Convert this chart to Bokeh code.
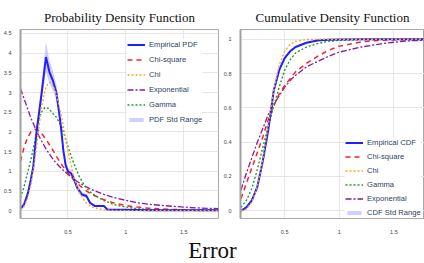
import numpy as np
from bokeh.plotting import figure
from bokeh.models import Legend, LegendItem, FixedTicker, CustomJSTickFormatter, Range1d
from bokeh.layouts import column, row
from bokeh.core.properties import value
from bokeh.embed import file_html
from bokeh.resources import INLINE

# ---------------- PDF data ----------------
emp_x = [0.09, 0.12, 0.155, 0.18, 0.20, 0.23, 0.27, 0.31, 0.34, 0.37, 0.40, 0.43, 0.44, 0.46,
         0.48, 0.50, 0.526, 0.55, 0.58, 0.62, 0.66, 0.69, 0.73, 0.81, 0.84, 0.90, 1.0, 1.2, 1.5, 1.8]
emp_pdf = [0.05, 0.15, 0.45, 0.80, 1.10, 2.03, 2.93, 3.90, 3.52, 3.30, 3.00, 2.35, 2.10, 1.53,
           1.15, 1.00, 0.95, 0.82, 0.58, 0.41, 0.37, 0.20, 0.12, 0.12, 0.03, 0.02, 0.02, 0.01, 0.01, 0.01]
emp_pdf_sd = [0.05, 0.06, 0.08, 0.10, 0.12, 0.15, 0.20, 0.38, 0.30, 0.25, 0.20, 0.15, 0.12, 0.10,
              0.10, 0.08, 0.08, 0.08, 0.08, 0.06, 0.05, 0.04, 0.03, 0.03, 0.02, 0.02, 0.01, 0.01, 0.01, 0.01]

fit_x = [0.09, 0.12, 0.15, 0.18, 0.21, 0.24, 0.27, 0.30, 0.33, 0.36, 0.40, 0.45, 0.50, 0.55,
         0.60, 0.65, 0.70, 0.80, 0.90, 1.0, 1.1, 1.2, 1.4, 1.6, 1.8]
chisq_pdf = [1.25, 1.60, 1.85, 2.00, 2.07, 2.05, 1.97, 1.85, 1.72, 1.58, 1.38, 1.15, 0.95, 0.78,
             0.64, 0.52, 0.42, 0.29, 0.19, 0.13, 0.09, 0.06, 0.03, 0.015, 0.008]
chi_pdf = [0.03, 0.10, 0.30, 0.65, 1.20, 1.90, 2.60, 3.05, 3.25, 3.25, 2.97, 2.30, 1.50, 0.85,
           0.45, 0.22, 0.10, 0.02, 0.005, 0.0, 0.0, 0.0, 0.0, 0.0, 0.0]
expon_pdf = [3.10, 2.85, 2.60, 2.35, 2.15, 1.95, 1.78, 1.62, 1.48, 1.35, 1.20, 1.05, 0.92, 0.80,
             0.70, 0.62, 0.54, 0.42, 0.33, 0.26, 0.20, 0.16, 0.11, 0.07, 0.05]
gamma_pdf = [0.33, 0.60, 0.95, 1.30, 1.70, 2.20, 2.50, 2.62, 2.60, 2.50, 2.37, 2.10, 1.62, 1.20,
             0.85, 0.60, 0.45, 0.27, 0.15, 0.09, 0.05, 0.03, 0.01, 0.005, 0.002]

# ---------------- CDF data ----------------
cdf_x = [0.10, 0.15, 0.20, 0.25, 0.30, 0.35, 0.40, 0.45, 0.50, 0.55, 0.60, 0.70, 0.80, 0.90,
         1.0, 1.2, 1.4, 1.6, 1.8]
emp_cdf = [0.0, 0.02, 0.06, 0.14, 0.29, 0.47, 0.70, 0.82, 0.89, 0.93, 0.955, 0.98, 0.993, 0.997,
           0.999, 1.0, 1.0, 1.0, 1.0]
emp_cdf_sd = [0.005, 0.008, 0.01, 0.015, 0.02, 0.02, 0.02, 0.015, 0.01, 0.008, 0.006, 0.004, 0.003,
              0.002, 0.001, 0.001, 0.001, 0.001, 0.001]
chisq_cdf = [0.07, 0.16, 0.25, 0.34, 0.43, 0.53, 0.61, 0.68, 0.73, 0.77, 0.81, 0.86, 0.90, 0.935,
             0.96, 0.985, 0.995, 0.998, 1.0]
chi_cdf = [0.0, 0.01, 0.05, 0.14, 0.30, 0.50, 0.70, 0.85, 0.93, 0.97, 0.988, 0.998, 1.0, 1.0,
           1.0, 1.0, 1.0, 1.0, 1.0]
gamma_cdf = [0.02, 0.06, 0.13, 0.24, 0.37, 0.49, 0.61, 0.72, 0.82, 0.88, 0.92, 0.955, 0.975, 0.988,
             0.994, 0.998, 1.0, 1.0, 1.0]
expon_cdf = [0.12, 0.22, 0.31, 0.40, 0.48, 0.56, 0.62, 0.67, 0.72, 0.76, 0.79, 0.84, 0.87, 0.90,
             0.925, 0.955, 0.975, 0.99, 0.995]

pdf_yticks = [0, 0.5, 1, 1.5, 2, 2.5, 3, 3.5, 4, 4.5]
cdf_yticks = [0, 0.2, 0.4, 0.6, 0.8, 1]
xticks = [0.5, 1, 1.5]

BLUE = "#1f1fff"
RED = "#ff2020"
ORANGE = "#ffa520"
PURPLE = "#8b1a9b"
GREEN = "#1f9a2f"
BAND = "#c4c4ff"
TXT = "#2a3f5f"

fmt = CustomJSTickFormatter(code="return String(Math.round(tick*100)/100);")


def make_fig(title, w, h, xr, yr, yticks, left, right):
    p = figure(width=w, height=h, x_range=Range1d(*xr), y_range=Range1d(*yr),
               output_backend="svg", toolbar_location=None, title=title,
               min_border_left=left, min_border_right=right, min_border_top=29, min_border_bottom=13)
    p.title.align = "center"
    p.title.text_font = "Liberation Serif"
    p.title.text_font_size = "13px"
    p.title.text_font_style = "normal"
    p.title.text_color = "#111111"
    p.title.standoff = 9
    p.background_fill_color = "white"
    p.border_fill_color = "white"
    p.outline_line_color = "#a8a8a8"
    p.outline_line_width = 1
    for ax in (p.xaxis, p.yaxis):
        ax.major_tick_line_color = None
        ax.minor_tick_line_color = None
        ax.major_label_text_font_size = "5.5px"
        ax.major_label_text_color = "#444444"
        ax.major_label_text_font = "Liberation Sans"
        ax.formatter = fmt
    p.yaxis.axis_line_color = "#a0a0a0"
    p.yaxis.axis_line_width = 2
    p.xaxis.axis_line_color = "#a8a8a8"
    p.xaxis.axis_line_width = 1
    p.xaxis.major_label_standoff = 5
    p.yaxis.major_label_standoff = 3
    p.xaxis.ticker = FixedTicker(ticks=xticks)
    p.yaxis.ticker = FixedTicker(ticks=yticks)
    p.xgrid.ticker = FixedTicker(ticks=xticks)
    p.ygrid.ticker = FixedTicker(ticks=yticks)
    p.grid.grid_line_color = "#e6e6e6"
    p.grid.grid_line_width = 1
    return p


def style_legend(lg, loc, spacing):
    lg.location = loc
    lg.label_text_font = "Liberation Sans"
    lg.label_text_font_size = "7.6px"
    lg.label_text_color = TXT
    lg.glyph_width = 18
    lg.glyph_height = 5
    lg.label_height = 10
    lg.label_standoff = 4
    lg.spacing = spacing
    lg.padding = 3
    lg.margin = 0
    lg.border_line_color = None
    lg.background_fill_color = "white"
    lg.background_fill_alpha = 1.0


# ---------------- Left: PDF ----------------
p1 = make_fig("Probability Density Function", 220, 236, (0.09, 1.80), (-0.2, 4.6), pdf_yticks, 20, 2)
lo = np.array(emp_pdf) - np.array(emp_pdf_sd)
hi = np.array(emp_pdf) + np.array(emp_pdf_sd)
r_band = p1.varea(x=emp_x, y1=lo, y2=hi, fill_color=BAND, fill_alpha=0.8)
r_exp = p1.line(fit_x, expon_pdf, line_color=PURPLE, line_width=1.3, line_dash="6 2 2 2")
r_chisq = p1.line(fit_x, chisq_pdf, line_color=RED, line_width=1.5, line_dash="5 4")
r_gam = p1.line(fit_x, gamma_pdf, line_color=GREEN, line_width=1.4, line_dash="2 2")
r_emp = p1.line(emp_x, emp_pdf, line_color=BLUE, line_width=2)
r_chi = p1.line(fit_x, chi_pdf, line_color=ORANGE, line_width=1.4, line_dash="2 2")
lg1 = Legend(items=[
    LegendItem(label="Empirical PDF", renderers=[r_emp]),
    LegendItem(label="Chi-square", renderers=[r_chisq]),
    LegendItem(label="Chi", renderers=[r_chi]),
    LegendItem(label="Exponential", renderers=[r_exp]),
    LegendItem(label="Gamma", renderers=[r_gam]),
    LegendItem(label="PDF Std Range", renderers=[r_band]),
])
style_legend(lg1, (107, 94), 5)
p1.add_layout(lg1)

# ---------------- Right: CDF ----------------
p2 = make_fig("Cumulative Density Function", 204, 236, (0.096, 1.78), (-0.045, 1.057), cdf_yticks, 12, 0)
clo = np.array(emp_cdf) - np.array(emp_cdf_sd)
chi_ = np.array(emp_cdf) + np.array(emp_cdf_sd)
c_band = p2.varea(x=cdf_x, y1=clo, y2=chi_, fill_color=BAND, fill_alpha=0.8)
c_exp = p2.line(cdf_x, expon_cdf, line_color=PURPLE, line_width=1.3, line_dash="6 2 2 2")
c_chisq = p2.line(cdf_x, chisq_cdf, line_color=RED, line_width=1.5, line_dash="5 4")
c_gam = p2.line(cdf_x, gamma_cdf, line_color=GREEN, line_width=1.4, line_dash="2 2")
c_emp = p2.line(cdf_x, emp_cdf, line_color=BLUE, line_width=2)
c_chi = p2.line(cdf_x, chi_cdf, line_color=ORANGE, line_width=1.4, line_dash="2 2")
lg2 = Legend(items=[
    LegendItem(label="Empirical CDF", renderers=[c_emp]),
    LegendItem(label="Chi-square", renderers=[c_chisq]),
    LegendItem(label="Chi", renderers=[c_chi]),
    LegendItem(label="Gamma", renderers=[c_gam]),
    LegendItem(label="Exponential", renderers=[c_exp]),
    LegendItem(label="CDF Std Range", renderers=[c_band]),
])
style_legend(lg2, (105, 1), 4)
p2.add_layout(lg2)

# ---------------- Bottom caption ----------------
p3 = figure(width=424, height=27, x_range=Range1d(0, 1), y_range=Range1d(0, 1),
            output_backend="svg", toolbar_location=None,
            min_border_left=0, min_border_right=0, min_border_top=0, min_border_bottom=0)
p3.axis.visible = False
p3.grid.visible = False
p3.outline_line_color = None
p3.text(x=[0.5], y=[0.48], text=["Error"], text_font=value("Liberation Serif"),
        text_font_size="23px", text_align="center", text_baseline="middle",
        text_color="#111111")

layout = column(row(p1, p2), p3)
open("out.html", "w").write(file_html(layout, INLINE))
